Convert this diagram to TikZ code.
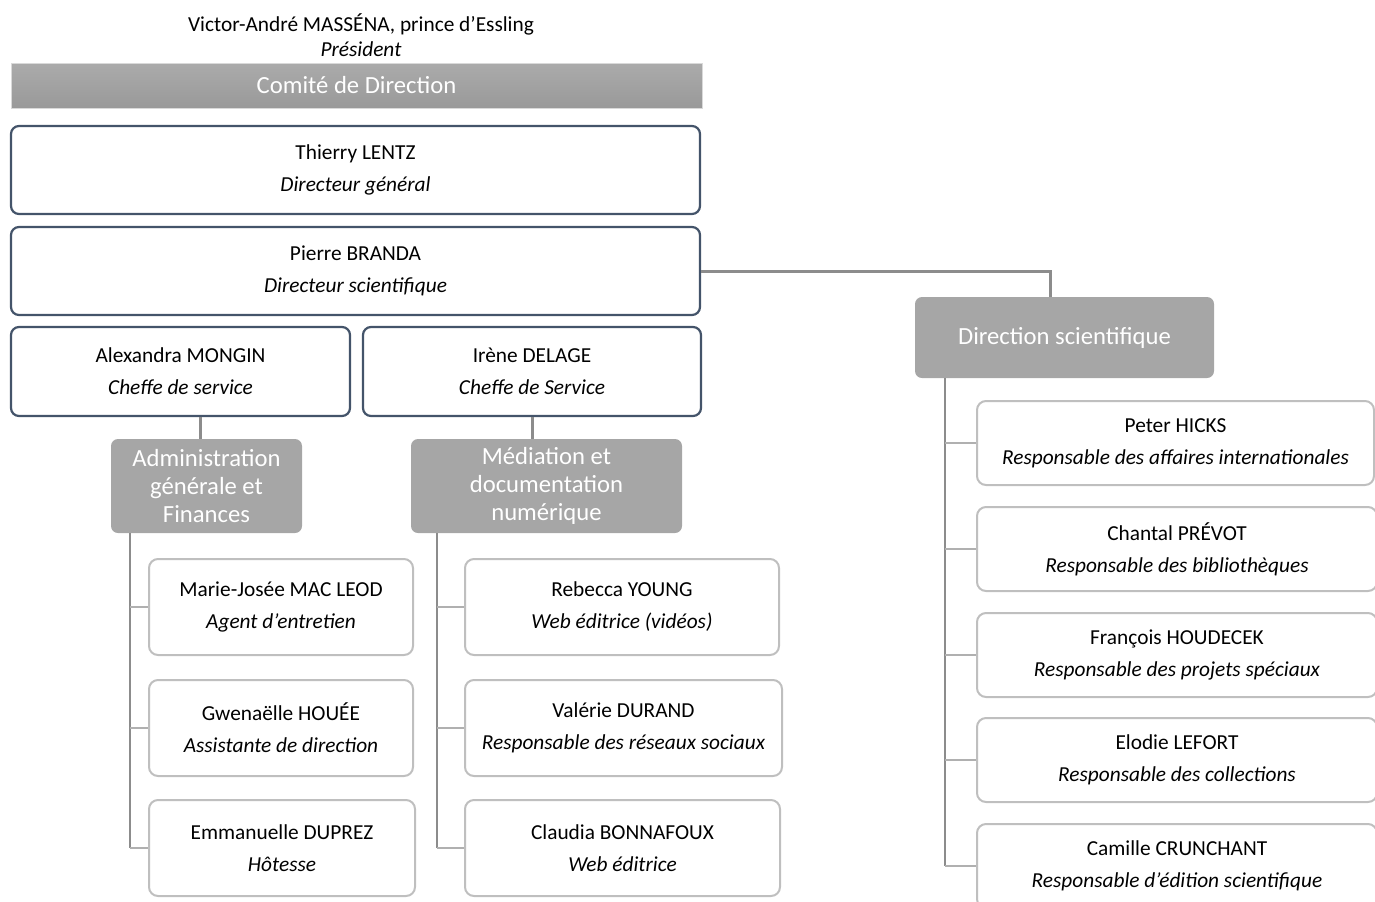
\documentclass[tikz,border=0pt]{standalone}
\usepackage{fontspec}
\setmainfont{Carlito}
\usetikzlibrary{calc}
\newlength\px
\setlength\px{0.75pt}
\definecolor{boxdark}{HTML}{44546A}
\definecolor{boxlight}{HTML}{BFBFBF}
\definecolor{grayfill}{HTML}{A6A6A6}
\definecolor{conngray}{HTML}{8C8C8C}
\definecolor{branchgray}{HTML}{B0B0B0}
\tikzset{
  topbox/.style={draw=boxdark, line width=2.2\px, rounded corners=8\px, fill=white,
    align=center, inner sep=0pt, font=\fontsize{16}{24}\selectfont},
  lowbox/.style={draw=boxlight, line width=2\px, rounded corners=9\px, fill=white,
    align=center, inner sep=0pt, font=\fontsize{16}{24}\selectfont},
  graybox/.style={fill=grayfill, rounded corners=7\px, text=white,
    align=center, inner sep=0pt, font=\fontsize{18.5}{21}\selectfont},
  conn/.style={draw=conngray, line width=3\px},
  trunk/.style={draw=conngray, line width=2.2\px},
  branch/.style={draw=branchgray, line width=2\px},
}
\begin{document}
\begin{tikzpicture}[x=0.75pt,y=-0.75pt]
\useasboundingbox (0,0) rectangle (1375,901);
\clip (0,0) rectangle (1375,901);

% President
\node[align=center, inner sep=0pt, font=\fontsize{16}{18.75}\selectfont] (pres) at (361,35)
  {Victor-André MASSÉNA, prince d’Essling\\\textit{Président}};

% Comite bar
\node[draw=black!15, line width=1\px, top color=black!33, bottom color=black!40,
  minimum width=691\px, minimum height=45\px, inner sep=0pt, text=white,
  font=\fontsize{18.5}{21}\selectfont] (comite) at (356.5,85.5) {Comité de Direction};

% Top boxes
\node[topbox, minimum width=689\px, minimum height=88\px] (thierry) at (355.5,170)
  {Thierry LENTZ\\\textit{Directeur général}};
\node[topbox, minimum width=689\px, minimum height=88\px] (pierre) at (355.5,271)
  {Pierre BRANDA\\\textit{Directeur scientifique}};
\node[topbox, minimum width=339\px, minimum height=89\px] (alexandra) at (180.5,371.5)
  {Alexandra MONGIN\\\textit{Cheffe de service}};
\node[topbox, minimum width=338\px, minimum height=89\px] (irene) at (532,371.5)
  {Irène DELAGE\\\textit{Cheffe de Service}};

% Gray service boxes
\node[graybox, minimum width=191\px, minimum height=94\px] (admin) at (206.5,486)
  {Administration\\générale et\\Finances};
\node[graybox, minimum width=271\px, minimum height=94\px] (mediation) at (546.5,486)
  {Médiation et\\documentation\\numérique};
\node[graybox, minimum width=299\px, minimum height=81\px] (ds) at (1064.5,337.5)
  {Direction scientifique};

% Admin staff
\node[lowbox, minimum width=264\px, minimum height=96\px] (mj) at (281,607)
  {Marie-Josée MAC LEOD\\\textit{Agent d’entretien}};
\node[lowbox, minimum width=264\px, minimum height=96\px] (gw) at (281,728)
  {Gwenaëlle HOUÉE\\\textit{Assistante de direction}};
\node[lowbox, minimum width=266\px, minimum height=96\px] (em) at (282,848)
  {Emmanuelle DUPREZ\\\textit{Hôtesse}};

% Mediation staff
\node[lowbox, minimum width=314\px, minimum height=96\px] (rebecca) at (622,607)
  {Rebecca YOUNG\\\textit{Web éditrice (vidéos)}};
\node[lowbox, minimum width=317\px, minimum height=96\px] (valerie) at (623.5,728)
  {Valérie DURAND\\\textit{Responsable des réseaux sociaux}};
\node[lowbox, minimum width=315\px, minimum height=96\px] (claudia) at (622.5,848)
  {Claudia BONNAFOUX\\\textit{Web éditrice}};

% Direction scientifique staff
\node[lowbox, minimum width=397\px, minimum height=84\px] (peter) at (1175.5,443)
  {Peter HICKS\\\textit{Responsable des affaires internationales}};
\node[lowbox, minimum width=400\px, minimum height=84\px] (chantal) at (1177,549)
  {Chantal PRÉVOT\\\textit{Responsable des bibliothèques}};
\node[lowbox, minimum width=400\px, minimum height=84\px] (francois) at (1177,655)
  {François HOUDECEK\\\textit{Responsable des projets spéciaux}};
\node[lowbox, minimum width=400\px, minimum height=84\px] (elodie) at (1177,760)
  {Elodie LEFORT\\\textit{Responsable des collections}};
\node[lowbox, minimum width=400\px, minimum height=84\px] (camille) at (1177,866)
  {Camille CRUNCHANT\\\textit{Responsable d’édition scientifique}};

% Connectors from heads
\draw[conn] (pierre.east) -| ([xshift=-14.5\px]ds.north);
\draw[conn] ([xshift=19.5\px]alexandra.south) -- ([xshift=19.5\px]alexandra.south |- admin.north);
\draw[conn] (irene.south) -- (irene.south |- mediation.north);

% Admin tree
\coordinate (at) at ([xshift=-76.5\px]admin.south);
\draw[trunk] (at) -- (at |- em.west);
\foreach \n in {mj,gw,em} \draw[branch] (at |- \n.west) -- (\n.west);

% Mediation tree
\coordinate (mt) at ([xshift=-109.5\px]mediation.south);
\draw[trunk] (mt) -- (mt |- claudia.west);
\foreach \n in {rebecca,valerie,claudia} \draw[branch] (mt |- \n.west) -- (\n.west);

% DS tree
\coordinate (dt) at ([xshift=-119.5\px]ds.south);
\draw[trunk] (dt) -- (dt |- camille.west);
\foreach \n in {peter,chantal,francois,elodie,camille} \draw[branch] (dt |- \n.west) -- (\n.west);
\end{tikzpicture}
\end{document}
